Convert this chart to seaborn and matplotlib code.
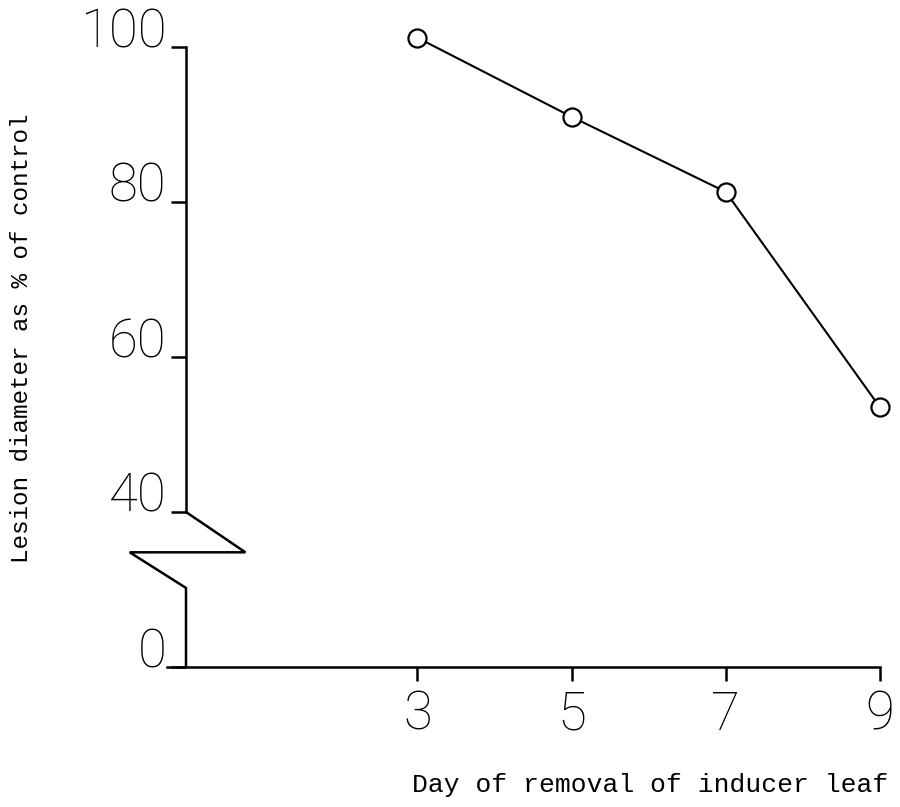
import matplotlib
matplotlib.use("Agg")
import matplotlib.pyplot as plt
import seaborn as sns
import pandas as pd

# Data (day of removal vs lesion diameter %)
days = [3, 5, 7, 9]
lesion_pct = [101.2, 91.0, 81.3, 53.5]
xtick_vals = [3, 5, 7, 9]
ytick_vals = [20, 40, 60, 80, 100]          # 20 = broken-axis position of 0
ytick_labels = ["0", "40", "60", "80", "100"]

sns.set_style("white")
plt.rcParams['font.family'] = ['DejaVu Sans']

fig = plt.figure(figsize=(9, 8.07), dpi=100)
W, H = 900, 807
left, right = 186 / W, 880 / W
bottom, top = 1 - 667 / H, 1 - 47 / H
ax = fig.add_axes([left, bottom, right - left, top - bottom])

df = pd.DataFrame({"day": days, "pct": lesion_pct})
sns.lineplot(data=df, x="day", y="pct", ax=ax, color="black", linewidth=1.5,
             marker="o", markersize=13, markerfacecolor="white",
             markeredgecolor="black", markeredgewidth=1.6, clip_on=False)

ax.set_xlim(0, 9)
ax.set_ylim(20, 100)

for s in ["top", "right"]:
    ax.spines[s].set_visible(False)
ax.spines["left"].set_bounds(40, 100)
ax.spines["bottom"].set_bounds(-0.25, 9)
for s in ["left", "bottom"]:
    ax.spines[s].set_linewidth(1.8)
    ax.spines[s].set_color("black")

# Axis break zigzag (decoration)
ax.plot([0, 0.77, -0.73, 0, 0], [40, 34.8, 34.8, 30.2, 20], color="black",
        lw=1.8, clip_on=False, solid_joinstyle="miter")

ax.set_xticks(xtick_vals)
ax.set_xticklabels([str(v) for v in xtick_vals])
ax.set_yticks(ytick_vals)
ax.set_yticklabels(ytick_labels)

ax.tick_params(axis="y", left=True, direction="out", length=11, width=1.8,
               pad=3, color="black", labelcolor="black")
ax.tick_params(axis="x", bottom=True, direction="out", length=10, width=1.8,
               pad=6, color="black", labelcolor="black")
for lab in ax.get_yticklabels():
    lab.set_fontfamily("Roboto"); lab.set_fontweight("light"); lab.set_fontsize(38)
    lab.set_verticalalignment("baseline")
for lab in ax.get_xticklabels():
    lab.set_fontfamily("Roboto"); lab.set_fontweight("light"); lab.set_fontsize(38)

ax.set_xlabel("")
ax.set_ylabel("")
fig.text(650 / W, 1 - 785 / H, "Day of removal of inducer leaf",
         ha="center", va="center", family="Liberation Mono", fontsize=19,
         color="black")
fig.text(22 / W, 1 - 338 / H, "Lesion diameter as % of control",
         ha="center", va="center", rotation=90, family="Liberation Mono",
         fontsize=17.5, color="black")

fig.savefig("out.png", dpi=100, facecolor="white")
